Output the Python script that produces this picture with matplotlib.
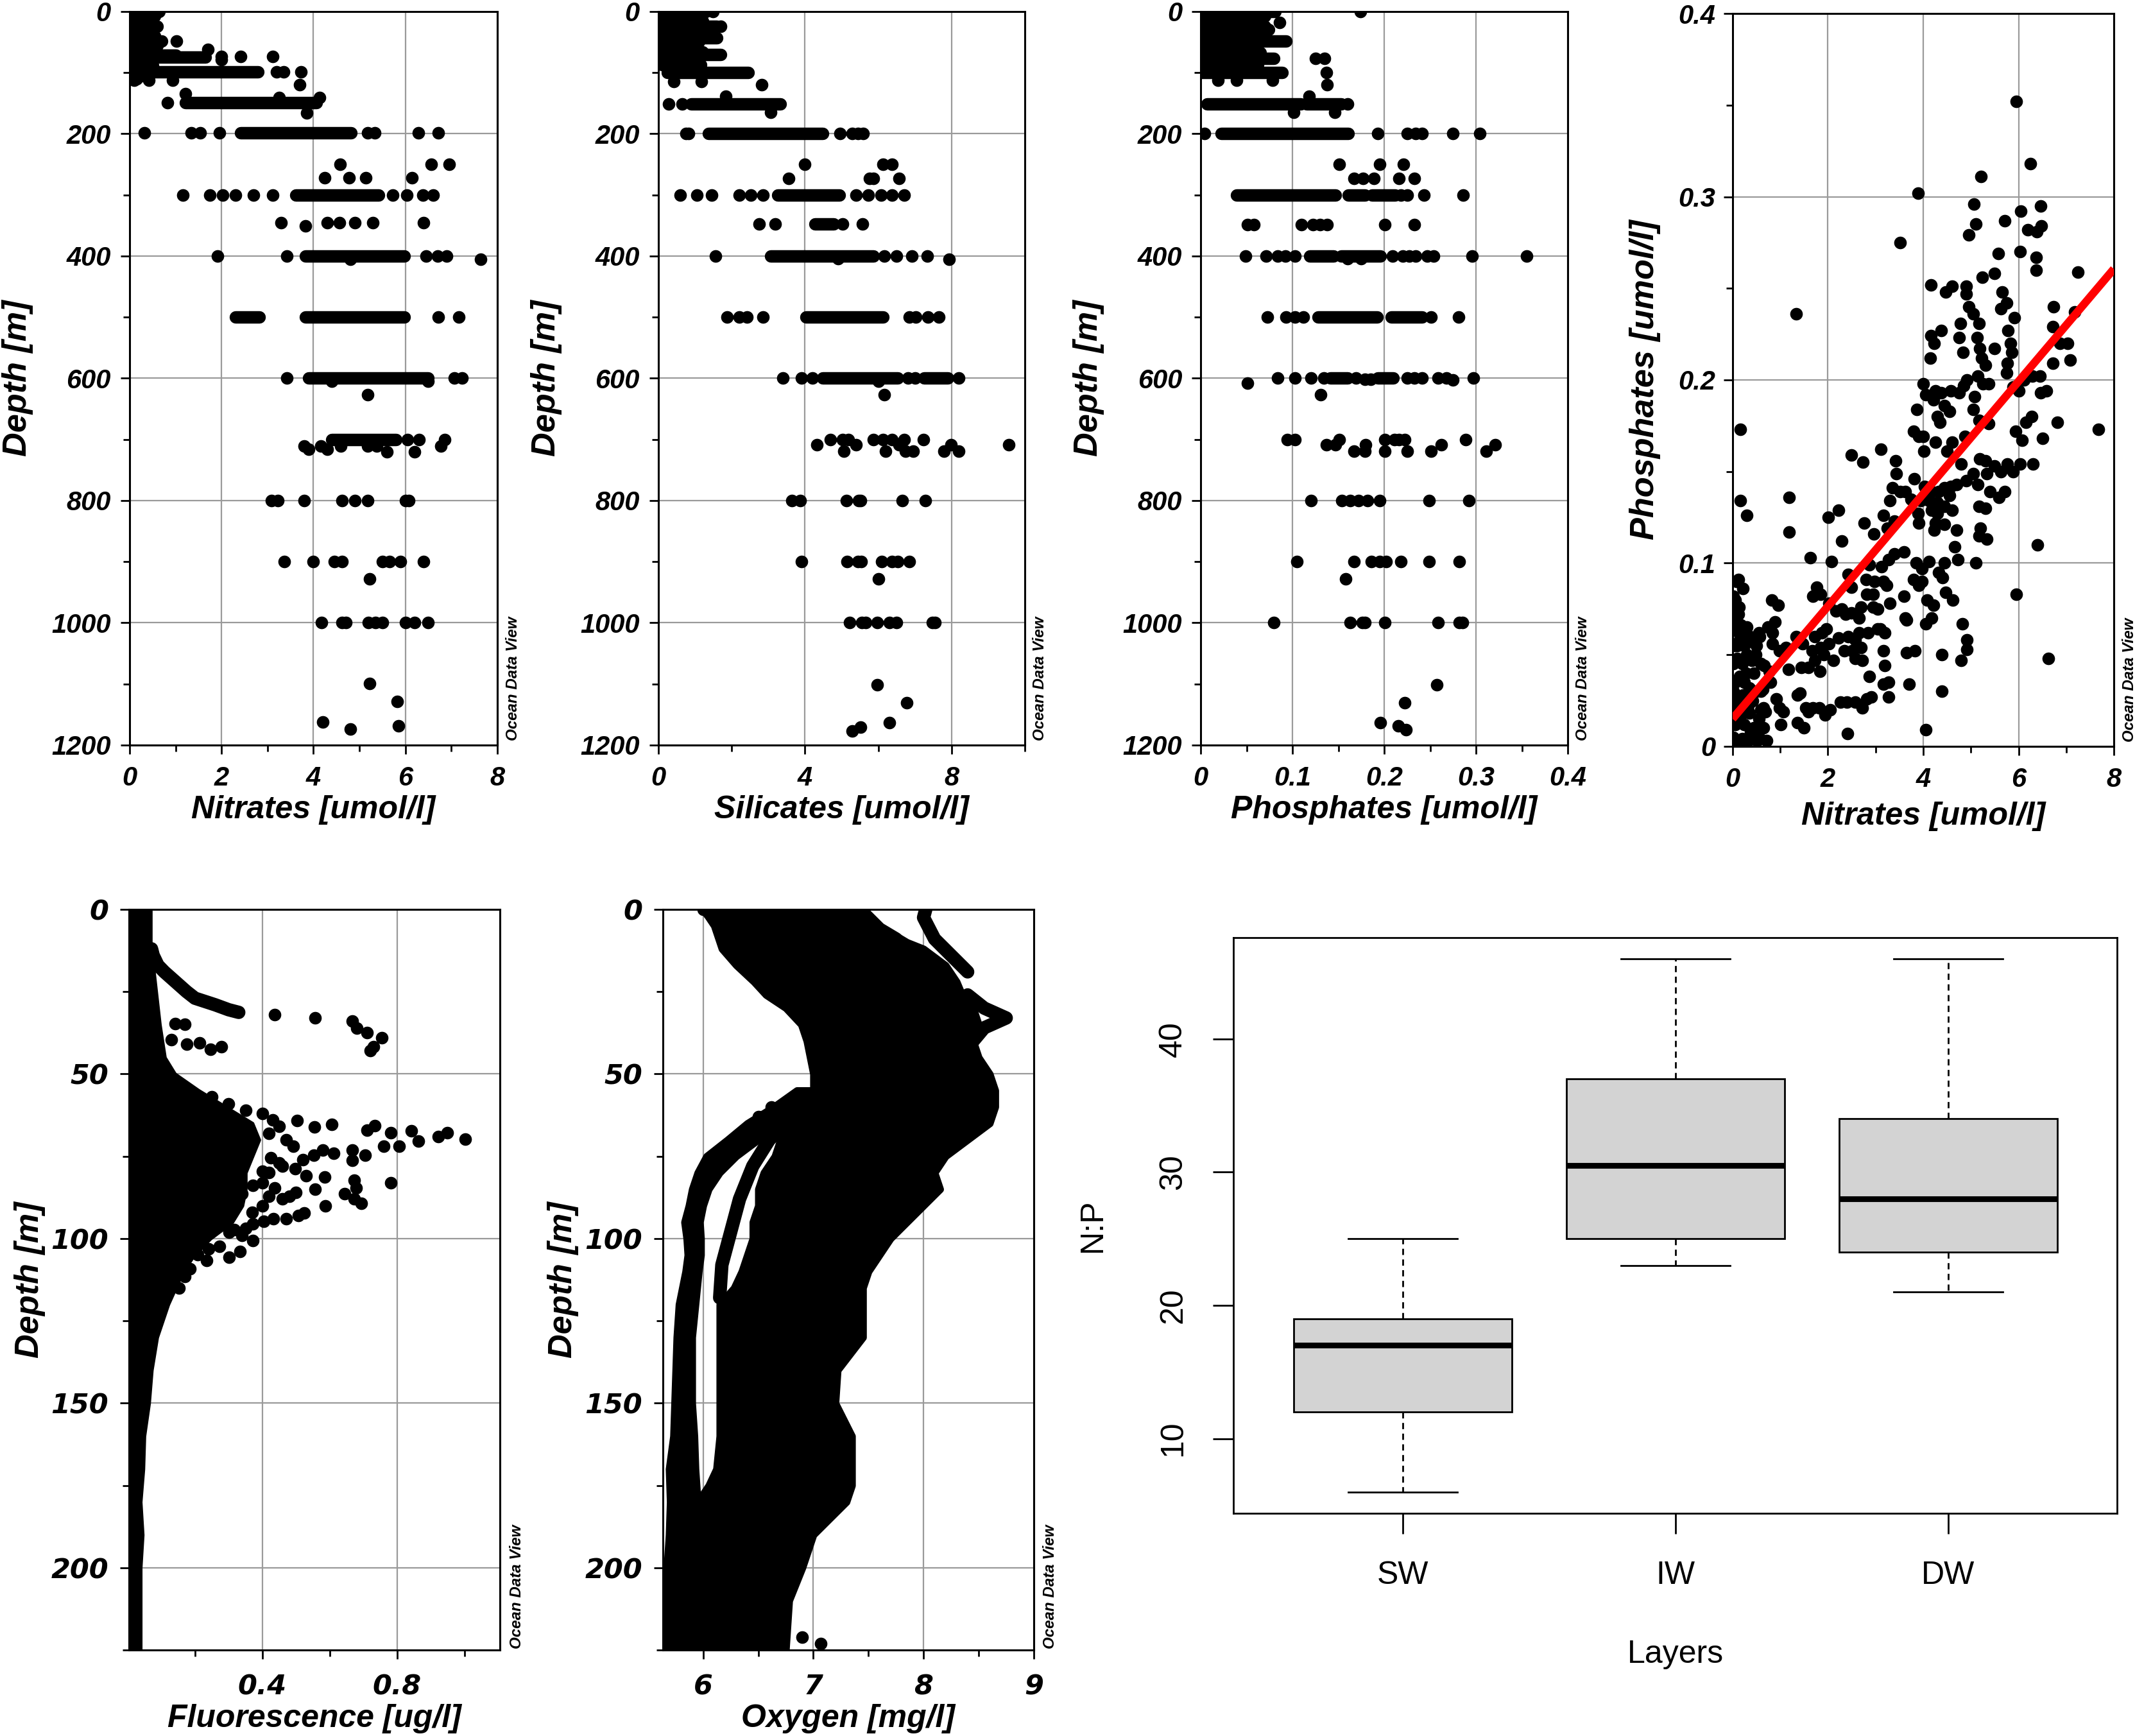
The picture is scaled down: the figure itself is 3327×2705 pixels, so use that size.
import matplotlib
matplotlib.use("Agg")
import matplotlib.pyplot as plt

plt.rcParams['font.family'] = ['Liberation Sans', 'DejaVu Sans']

# ---------------- data ----------------
# dense rows of dots are kept as (depth, from, to) runs, single dots as (depth, value)

# Nitrates [umol/l] vs depth
no3_runs = [(0, 0, 0.65), (8, 0, 0.55), (16, 0, 0.45), (24, 0, 0.6), (32, 0, 0.5),
            (40, 0, 0.55), (48, 0, 0.7), (56, 0, 0.6), (64, 0, 0.5), (72, 0, 1.0),
            (75, 0, 1.65), (80, 0, 0.4), (88, 0, 0.5), (95, 0, 0.4), (99, 0, 2.8),
            (105, 0, 0.3), (110, 0, 0.15), (149, 1.22, 4.06), (199, 2.42, 4.82),
            (300, 3.62, 5.42), (400, 3.82, 5.98), (500, 2.3, 2.82), (500, 3.82, 5.98),
            (600, 3.9, 6.5), (700, 4.4, 5.8)]
no3_dots = [(48, 1.02), (62, 1.7), (74, 2.0), (74, 2.42), (74, 3.12), (79, 2.0), (99, 3.2),
            (99, 3.35), (99, 3.73), (113, 0.1), (113, 0.42), (113, 0.94), (120, 3.7), (135, 1.22),
            (141, 3.26), (141, 4.14), (149, 0.82), (166, 3.86), (199, 0.32), (199, 1.34),
            (199, 1.54), (199, 1.96), (199, 5.18), (199, 5.33), (199, 6.28), (199, 6.72),
            (250, 4.58), (250, 6.56), (250, 6.96), (272, 4.24), (272, 4.78), (272, 5.14),
            (272, 6.14), (300, 1.16), (300, 1.74), (300, 2.02), (300, 2.3), (300, 2.69),
            (300, 3.12), (300, 5.73), (300, 6.04), (300, 6.38), (300, 6.61), (346, 3.3),
            (346, 4.3), (346, 4.57), (346, 4.9), (346, 5.29), (346, 6.4), (351, 3.82),
            (400, 1.92), (400, 3.42), (400, 6.45), (400, 6.7), (400, 6.9), (405, 7.64),
            (405, 4.8), (500, 6.72), (500, 7.17), (600, 3.42), (600, 7.06), (600, 7.23),
            (627, 5.18), (605, 4.4), (605, 6.5), (700, 6.05), (700, 6.3), (700, 6.86),
            (711, 3.8), (711, 4.16), (711, 4.6), (711, 5.18), (711, 5.38), (711, 6.78),
            (716, 3.9), (716, 4.3), (720, 5.6), (720, 6.2), (800, 3.08), (800, 3.22),
            (800, 3.8), (800, 4.62), (800, 4.9), (800, 5.18), (800, 6.0), (800, 6.08),
            (900, 3.37), (900, 4.0), (900, 4.45), (900, 4.62), (900, 5.5), (900, 5.65),
            (900, 5.9), (900, 6.4), (928, 5.23), (1000, 4.17), (1000, 4.62), (1000, 4.7),
            (1000, 5.2), (1000, 5.35), (1000, 5.5), (1000, 6.0), (1000, 6.2), (1000, 6.5),
            (1099, 5.23), (1129, 5.82), (1162, 4.2), (1168, 5.85), (1174, 4.8)]

# Silicates [umol/l] vs depth
si_runs = [(0, 0, 1.3), (8, 0, 1.0), (16, 0, 1.2), (24, 0, 1.6), (32, 0, 1.0), (43, 0, 1.6),
           (50, 0, 1.1), (58, 0, 0.9), (66, 0, 1.2), (71, 0.1, 1.7), (80, 0, 1.0),
           (87, 0.1, 1.15), (100, 0.24, 2.46), (151, 0.9, 3.33), (200, 1.37, 4.49),
           (300, 3.26, 4.93), (348, 4.27, 4.78), (400, 3.07, 5.87), (500, 4.02, 6.13),
           (600, 4.49, 6.53), (600, 7.25, 7.9)]
si_dots = [(0, 1.48), (24, 1.7), (115, 0.42), (115, 1.18), (120, 2.82), (139, 1.84),
           (151, 0.28), (151, 0.64), (165, 3.07), (200, 0.75), (200, 0.82), (200, 4.96),
           (200, 5.29), (200, 5.45), (200, 5.58), (250, 4.0), (250, 6.13), (250, 6.38),
           (273, 3.55), (273, 5.76), (273, 5.87), (273, 6.56), (300, 0.59), (300, 1.05),
           (300, 1.45), (300, 2.2), (300, 2.53), (300, 2.86), (300, 5.4), (300, 5.73),
           (300, 6.08), (300, 6.38), (300, 6.71), (348, 2.75), (348, 3.18), (348, 5.03),
           (348, 5.57), (400, 1.55), (400, 6.16), (400, 6.49), (400, 6.92), (400, 7.33),
           (405, 7.94), (404, 4.9), (500, 1.88), (500, 2.2), (500, 2.42), (500, 2.86),
           (500, 6.85), (500, 7.03), (500, 7.35), (500, 7.65), (600, 3.4), (600, 3.91),
           (600, 4.2), (600, 6.82), (600, 7.0), (600, 8.2), (605, 6.0), (627, 6.16),
           (700, 4.69), (700, 5.03), (700, 5.18), (700, 5.87), (700, 6.13), (700, 6.38),
           (700, 6.71), (700, 7.24), (709, 4.33), (709, 5.4), (709, 6.56), (709, 7.99),
           (709, 9.56), (719, 5.07), (719, 6.2), (719, 6.74), (719, 6.96), (719, 7.8),
           (719, 8.2), (800, 3.65), (800, 3.87), (800, 5.13), (800, 5.47), (800, 5.51),
           (800, 6.66), (800, 7.29), (900, 3.91), (900, 5.15), (900, 5.44), (900, 5.54),
           (900, 6.09), (900, 6.38), (900, 6.53), (900, 6.85), (928, 6.0), (1000, 5.22),
           (1000, 5.55), (1000, 5.65), (1000, 5.98), (1000, 6.31), (1000, 6.49),
           (1000, 7.47), (1000, 7.54), (1101, 5.98), (1131, 6.78), (1163, 6.31),
           (1171, 5.51), (1177, 5.29)]

# Phosphates [umol/l] vs depth
po4_runs = [(0, 0, 0.081), (8, 0, 0.07), (16, 0, 0.065), (24, 0, 0.07), (30, 0, 0.074),
            (40, 0, 0.06), (48, 0, 0.093), (56, 0, 0.06), (67, 0, 0.065), (77, 0, 0.08),
            (87, 0, 0.062), (100, 0, 0.089), (151, 0.007, 0.109), (151, 0.115, 0.153),
            (200, 0.022, 0.161), (300, 0.039, 0.147), (300, 0.161, 0.179),
            (300, 0.187, 0.212), (400, 0.119, 0.145), (400, 0.153, 0.196),
            (500, 0.128, 0.192), (500, 0.208, 0.241), (600, 0.141, 0.16), (600, 0.193, 0.21)]
po4_dots = [(0, 0.174), (18, 0.086), (77, 0.125), (77, 0.135), (100, 0.137), (112, 0.019),
            (112, 0.039), (112, 0.078), (120, 0.138), (139, 0.118), (151, 0.16), (165, 0.101),
            (165, 0.146), (200, 0.004), (200, 0.193), (200, 0.225), (200, 0.234), (200, 0.241),
            (200, 0.275), (200, 0.304), (250, 0.151), (250, 0.195), (250, 0.221), (273, 0.167),
            (273, 0.177), (273, 0.189), (273, 0.216), (273, 0.233), (300, 0.218), (300, 0.225),
            (300, 0.243), (300, 0.286), (349, 0.051), (349, 0.058), (349, 0.11), (349, 0.122),
            (349, 0.13), (349, 0.138), (349, 0.201), (349, 0.233), (400, 0.049), (400, 0.071),
            (400, 0.084), (400, 0.092), (400, 0.103), (400, 0.209), (400, 0.22), (400, 0.227),
            (400, 0.234), (400, 0.247), (400, 0.254), (400, 0.296), (400, 0.355), (404, 0.16),
            (404, 0.175), (500, 0.073), (500, 0.093), (500, 0.103), (500, 0.112), (500, 0.251),
            (500, 0.281), (608, 0.051), (600, 0.084), (600, 0.103), (600, 0.12), (600, 0.134),
            (600, 0.169), (602, 0.179), (602, 0.185), (600, 0.225), (600, 0.233), (600, 0.241),
            (600, 0.259), (600, 0.268), (603, 0.275), (600, 0.297), (627, 0.131), (700, 0.094),
            (700, 0.103), (700, 0.151), (700, 0.201), (700, 0.211), (700, 0.216), (700, 0.222),
            (700, 0.289), (709, 0.137), (709, 0.147), (709, 0.18), (709, 0.262), (709, 0.321),
            (719, 0.167), (719, 0.179), (719, 0.201), (719, 0.225), (719, 0.251), (719, 0.311),
            (800, 0.12), (800, 0.154), (800, 0.163), (800, 0.172), (800, 0.182), (800, 0.195),
            (800, 0.249), (800, 0.292), (900, 0.105), (900, 0.167), (900, 0.186), (900, 0.195),
            (900, 0.202), (900, 0.218), (900, 0.249), (900, 0.282), (928, 0.158), (1000, 0.08),
            (1000, 0.163), (1000, 0.176), (1000, 0.179), (1000, 0.201), (1000, 0.259),
            (1000, 0.282), (1000, 0.285), (1101, 0.257), (1131, 0.222), (1163, 0.196),
            (1169, 0.215), (1175, 0.224)]

# Phosphates vs Nitrates scatter, (nitrate, phosphate)
np_points = [(5.95, 0.352), (6.25, 0.318), (3.89, 0.302), (5.21, 0.311), (5.07, 0.296), (6.46, 0.295),
             (6.05, 0.292), (5.11, 0.285), (5.71, 0.287), (6.48, 0.284), (6.2, 0.282), (6.39, 0.281),
             (4.95, 0.279), (3.52, 0.275), (6.03, 0.27), (5.57, 0.269), (6.37, 0.267), (6.37, 0.26),
             (5.49, 0.258), (5.24, 0.256), (7.24, 0.259), (4.16, 0.252), (4.47, 0.248), (4.61, 0.251),
             (4.9, 0.251), (4.9, 0.247), (5.65, 0.248), (4.95, 0.24), (5.75, 0.242), (5.63, 0.239),
             (6.74, 0.24), (5.91, 0.234), (7.18, 0.237), (4.78, 0.231), (5.17, 0.231), (5.05, 0.236),
             (4.16, 0.224), (4.38, 0.227), (4.76, 0.223), (5.78, 0.227), (6.72, 0.229), (5.13, 0.223),
             (6.87, 0.22), (7.03, 0.22), (5.83, 0.22), (4.23, 0.22), (4.83, 0.215), (5.18, 0.217),
             (5.5, 0.217), (5.86, 0.215), (4.15, 0.212), (5.22, 0.212), (7.09, 0.211), (6.72, 0.209),
             (5.31, 0.208), (5.77, 0.209), (5.75, 0.204), (6.82, 0.177), (7.67, 0.173), (0.16, 0.173),
             (4.0, 0.198), (4.92, 0.2), (5.14, 0.202), (5.25, 0.198), (5.37, 0.198), (5.89, 0.196),
             (6.01, 0.194), (6.12, 0.2), (6.29, 0.202), (6.45, 0.202), (6.46, 0.193), (6.59, 0.194),
             (4.06, 0.192), (4.26, 0.194), (4.38, 0.193), (4.58, 0.194), (4.76, 0.193), (4.85, 0.197),
             (4.21, 0.189), (4.44, 0.186), (5.08, 0.191), (5.05, 0.184), (3.86, 0.184), (4.55, 0.183),
             (4.29, 0.18), (4.35, 0.177), (5.17, 0.178), (5.37, 0.176), (6.27, 0.18), (6.15, 0.177),
             (3.8, 0.172), (3.91, 0.169), (4.0, 0.169), (5.94, 0.172), (4.87, 0.169), (4.26, 0.166),
             (6.07, 0.167), (4.61, 0.166), (6.5, 0.168), (3.11, 0.162), (4.02, 0.161), (4.5, 0.161),
             (2.49, 0.159), (2.74, 0.155), (3.42, 0.156), (3.44, 0.149), (5.19, 0.157), (5.31, 0.156),
             (5.49, 0.153), (5.63, 0.15), (5.76, 0.154), (5.88, 0.15), (6.04, 0.154), (6.3, 0.154),
             (4.79, 0.154), (3.81, 0.146), (5.05, 0.149), (5.14, 0.143), (5.34, 0.149), (4.9, 0.145),
             (4.58, 0.142), (4.7, 0.143), (3.36, 0.141), (3.51, 0.139), (3.62, 0.139), (3.74, 0.135),
             (4.03, 0.142), (4.18, 0.139), (4.32, 0.139), (4.44, 0.141), (5.4, 0.139), (5.71, 0.139),
             (5.59, 0.136), (3.94, 0.134), (4.12, 0.134), (4.29, 0.133), (4.55, 0.137), (1.18, 0.136),
             (3.3, 0.134), (5.17, 0.131), (5.31, 0.13), (3.16, 0.126), (4.45, 0.131), (4.6, 0.129),
             (4.18, 0.129), (4.29, 0.127), (2.23, 0.129), (2.01, 0.125), (0.16, 0.134), (0.30, 0.126),
             (3.89, 0.127), (3.91, 0.122), (4.26, 0.122), (4.44, 0.121), (2.76, 0.122), (4.23, 0.118),
             (5.2, 0.119), (5.34, 0.113), (5.17, 0.115), (4.7, 0.118), (3.25, 0.119), (3.39, 0.123),
             (2.97, 0.116), (2.29, 0.112), (1.18, 0.117), (4.66, 0.109), (6.4, 0.11), (1.63, 0.103),
             (2.08, 0.101), (3.6, 0.106), (3.39, 0.105), (3.28, 0.102), (4.73, 0.102), (5.11, 0.1),
             (3.85, 0.1), (3.97, 0.097), (4.12, 0.101), (4.44, 0.1), (2.87, 0.099), (3.13, 0.098),
             (2.43, 0.094), (2.8, 0.091), (3.16, 0.09), (3.8, 0.091), (3.91, 0.088), (3.97, 0.09),
             (4.41, 0.092), (4.33, 0.095), (2.49, 0.087), (1.76, 0.087), (1.85, 0.083), (1.69, 0.082),
             (2.98, 0.09), (3.23, 0.088), (2.81, 0.083), (2.95, 0.083), (4.47, 0.084), (0.12, 0.091),
             (0.22, 0.086), (0.13, 0.076), (0.02, 0.082), (0.05, 0.071), (0.1, 0.068), (2.02, 0.078),
             (2.17, 0.074), (2.29, 0.075), (2.37, 0.072), (2.49, 0.073), (2.66, 0.07), (2.7, 0.076),
             (0.82, 0.08), (0.96, 0.077), (3.6, 0.082), (4.08, 0.08), (4.21, 0.077), (4.18, 0.07),
             (4.06, 0.067), (4.62, 0.08), (2.95, 0.076), (3.04, 0.075), (3.1, 0.064), (3.3, 0.078),
             (3.62, 0.07), (3.65, 0.069), (4.82, 0.067), (0.89, 0.068), (0.74, 0.065), (0.84, 0.062),
             (0.57, 0.06), (0.37, 0.06), (0.83, 0.056), (0.98, 0.052), (1.12, 0.054), (1.17, 0.042),
             (1.44, 0.043), (1.59, 0.043), (1.33, 0.06), (1.47, 0.056), (1.73, 0.06), (1.73, 0.047),
             (1.67, 0.052), (1.85, 0.054), (1.91, 0.05), (2.02, 0.056), (1.83, 0.041), (1.88, 0.062),
             (1.97, 0.064), (2.11, 0.047), (2.23, 0.059), (2.34, 0.052), (2.43, 0.06), (2.51, 0.052),
             (2.58, 0.058), (2.66, 0.062), (2.69, 0.054), (2.58, 0.048), (2.72, 0.047), (2.84, 0.062),
             (3.04, 0.064), (3.19, 0.062), (3.17, 0.052), (3.19, 0.044), (3.28, 0.035), (3.16, 0.034),
             (2.87, 0.038), (2.91, 0.027), (3.28, 0.027), (3.65, 0.051), (3.71, 0.034), (3.83, 0.052),
             (4.39, 0.05), (4.39, 0.03), (4.79, 0.047), (4.92, 0.058), (4.92, 0.053), (6.62, 0.048),
             (4.06, 0.009), (2.41, 0.007), (1.5, 0.01), (5.95, 0.083), (1.82, 0.021), (1.59, 0.019),
             (1.68, 0.021), (1.41, 0.029), (1.53, 0.021), (1.36, 0.013), (1.06, 0.019), (0.98, 0.021),
             (0.92, 0.026), (1.01, 0.012), (1.94, 0.017), (1.36, 0.028), (2.05, 0.02), (2.26, 0.024),
             (2.4, 0.024), (2.58, 0.024), (2.72, 0.021), (2.81, 0.026), (0.63, 0.031), (0.65, 0.021),
             (0.69, 0.019), (0.72, 0.003), (0.51, 0.003), (0.8, 0.035), (0.77, 0.041), (0.66, 0.044),
             (1.33, 0.236)]
np_cluster = [(0.02, 0.005), (0.1, 0.003), (0.2, 0.004), (0.3, 0.002), (0.4, 0.005), (0.05, 0.012),
              (0.15, 0.015), (0.25, 0.012), (0.35, 0.018), (0.45, 0.01), (0.55, 0.015), (0.03, 0.022),
              (0.12, 0.025), (0.22, 0.028), (0.32, 0.022), (0.42, 0.025), (0.5, 0.03), (0.05, 0.035),
              (0.15, 0.038), (0.25, 0.035), (0.35, 0.032), (0.45, 0.04), (0.02, 0.045), (0.1, 0.048),
              (0.2, 0.045), (0.3, 0.05), (0.4, 0.047), (0.05, 0.055), (0.15, 0.058), (0.25, 0.055),
              (0.35, 0.06), (0.08, 0.063), (0.18, 0.066), (0.3, 0.065), (0.5, 0.055), (0.6, 0.045),
              (0.55, 0.062), (0.03, 0.07), (0.12, 0.072), (0.22, 0.06), (0.42, 0.058), (0.48, 0.05),
              (0.6, 0.02), (0.65, 0.01), (0.05, 0.08), (0.08, 0.09), (0.1, 0.055), (0.2, 0.018),
              (0.38, 0.008), (0.28, 0.04), (0.02, 0.03), (0.6, 0.03), (0.55, 0.005)]
fit_intercept = 0.015
fit_slope = 0.0307

# Fluorescence [ug/l]: dense core (right edge by depth), a thin profile, single dots
fl_core_depth = [0, 10, 15, 25, 35, 45, 50, 55, 60, 65, 70, 75, 80, 85, 90, 95, 100, 105, 110,
                 115, 120, 130, 140, 150, 160, 170, 180, 190, 200, 225]
fl_core_edge = [0.068, 0.068, 0.073, 0.084, 0.095, 0.11, 0.14, 0.21, 0.29, 0.37, 0.39, 0.37,
                0.35, 0.35, 0.34, 0.31, 0.245, 0.197, 0.164, 0.142, 0.12, 0.087, 0.071, 0.063,
                0.049, 0.046, 0.038, 0.044, 0.038, 0.038]
fl_tail_depth = [12, 14, 17, 19, 22, 25, 27, 28, 29, 30.5, 31.3]
fl_tail_val = [0.071, 0.076, 0.09, 0.109, 0.142, 0.175, 0.2, 0.23, 0.26, 0.30, 0.33]
fl_dots = [(32, 0.437), (33, 0.557), (34, 0.667), (36, 0.68), (37.5, 0.71), (39, 0.755),
           (41.7, 0.73), (43, 0.72), (34.7, 0.142), (35, 0.17), (41, 0.175), (40.6, 0.213),
           (42.6, 0.246), (41.7, 0.279), (39.6, 0.13), (64.1, 0.503), (66.2, 0.555), (65.3, 0.607),
           (67, 0.71), (65.8, 0.734), (67.8, 0.781), (67.3, 0.842), (70.4, 0.863), (69, 0.923),
           (67.8, 0.949), (69.9, 1.003), (72, 0.76), (72, 0.807), (73.2, 0.667), (74.6, 0.705),
           (74.1, 0.612), (73.2, 0.579), (74.6, 0.552), (72, 0.492), (76.3, 0.667), (81.3, 0.585),
           (83, 0.781), (82.2, 0.672), (84.7, 0.678), (86.4, 0.645), (85, 0.557), (88, 0.672),
           (89.4, 0.694), (90, 0.588), (92.3, 0.525), (93, 0.508), (94, 0.47), (94, 0.432),
           (88, 0.459), (87.2, 0.48), (84.7, 0.437), (87.2, 0.42), (78.8, 0.497), (78, 0.459),
           (75.4, 0.426), (79.6, 0.40), (83.8, 0.372), (86.4, 0.339), (94.8, 0.404), (95.6, 0.372),
           (97.3, 0.317), (98.1, 0.301), (99, 0.339), (100.7, 0.372), (104, 0.333), (105.7, 0.301),
           (102.4, 0.273), (106.6, 0.235), (103.2, 0.24), (104.9, 0.208), (109.1, 0.186),
           (115, 0.153), (111.6, 0.17), (101.5, 0.213), (62, 0.40), (64, 0.43), (66, 0.45),
           (68, 0.42), (57, 0.25), (59, 0.30), (61, 0.35), (77, 0.45), (80, 0.42), (83, 0.40),
           (90, 0.40), (92, 0.37), (97, 0.35), (70, 0.47), (76, 0.52), (81, 0.53), (86, 0.50)]

# Oxygen [mg/l]: dense core (left / right edge by depth), left band of profiles, single lines
ox_core_depth = [0, 5, 10, 12, 17, 22, 26, 30, 35, 40, 45, 50, 55, 60, 65, 70, 75, 80, 85, 90,
                 95, 100, 105, 110, 115, 120, 130, 140, 150, 160, 170, 175, 180, 190, 200, 210, 225]
ox_core_left = [6.0, 6.1, 6.15, 6.17, 6.3, 6.46, 6.57, 6.75, 6.89, 6.94, 6.97, 7.0, 7.0, 6.8,
                6.7, 6.7, 6.65, 6.55, 6.5, 6.5, 6.45, 6.45, 6.4, 6.35, 6.28, 6.15, 6.15, 6.15,
                6.15, 6.15, 6.12, 6.05, 5.95, 5.9, 5.8, 5.64, 5.64]
ox_core_right = [7.45, 7.6, 7.85, 8.0, 8.2, 8.3, 8.35, 8.45, 8.5, 8.45, 8.5, 8.6, 8.65, 8.65,
                 8.6, 8.4, 8.2, 8.1, 8.15, 8.0, 7.85, 7.7, 7.6, 7.5, 7.45, 7.45, 7.45, 7.22, 7.2,
                 7.35, 7.35, 7.35, 7.3, 7.0, 6.9, 6.78, 6.75]
ox_band_depth = [55, 60, 65, 70, 75, 80, 85, 90, 95, 100, 105, 110, 120, 130, 140, 150, 160,
                 170, 180, 190, 200, 210, 225]
ox_band_left = [6.85, 6.64, 6.4, 6.22, 6.03, 5.95, 5.9, 5.87, 5.83, 5.85, 5.86, 5.84, 5.78,
                5.76, 5.75, 5.74, 5.73, 5.69, 5.7, 5.69, 5.67, 5.64, 5.64]
ox_band_right = [7.05, 6.9, 6.7, 6.5, 6.3, 6.15, 6.05, 6.0, 5.97, 5.98, 5.98, 5.96, 5.93, 5.9,
                 5.9, 5.9, 5.92, 5.93, 5.95, 5.9, 5.8, 5.7, 5.64]
ox_prof_c_depth = [47, 55, 65, 70, 78, 88, 98, 108, 118]
ox_prof_c_val = [7.35, 7.05, 6.75, 6.6, 6.45, 6.33, 6.25, 6.17, 6.15]
ox_prof_d_depth = [0, 2.5, 9, 14, 19]
ox_prof_d_val = [8.02, 8.0, 8.1, 8.25, 8.4]
ox_prof_e_depth = [26, 30, 33, 36, 40]
ox_prof_e_val = [8.4, 8.55, 8.75, 8.55, 8.45]
ox_prof_f_depth = [1, 6, 9, 14, 20, 25]
ox_prof_f_val = [7.45, 7.6, 7.75, 7.85, 8.0, 8.2]
ox_dots = [(221, 6.9), (223, 7.07), (0, 6.0), (1, 6.05), (60, 6.62), (63, 6.5)]

# N:P ratio by layer (box plot statistics)
layers = ['SW', 'IW', 'DW']
np_whislo = [6, 23, 21]
np_q1 = [12, 25, 24]
np_med = [17, 30.5, 28]
np_q3 = [19, 37, 34]
np_whishi = [25, 46, 46]

# ---------------- figure ----------------
fig = plt.figure(figsize=(16.635, 13.525), dpi=200)

BI = dict(fontweight='bold', fontstyle='italic')
DOT = 50          # marker area, pt^2
RUN_LW = 7.0      # run line width = dot diameter
PROF_LW = 7.5
GRID = dict(color='#9a9a9a', lw=0.8)


def odv_axes(rect, xlim, xmaj, xlab, xmin, ylim, ymaj, ylab, ymin, xlabel, ylabel,
             tick_fs, lab_fs, xpad, ypad, ylab_x, xlab_y, odv_xy):
    ax = fig.add_axes(rect)
    ax.set_xlim(*xlim)
    ax.set_ylim(*ylim)
    ax.set_xticks(xmaj, xlab, fontsize=tick_fs, **BI)
    ax.set_xticks(xmin, minor=True)
    ax.set_yticks(ymaj, ylab, fontsize=tick_fs, **BI)
    ax.set_yticks(ymin, minor=True)
    ax.tick_params(which='major', direction='out', length=5, width=1)
    ax.tick_params(which='minor', direction='out', length=3.5, width=1)
    ax.tick_params(axis='x', pad=xpad)
    ax.tick_params(axis='y', pad=ypad)
    ax.grid(True, which='major', **GRID)
    ax.set_axisbelow(True)
    for s in ax.spines.values():
        s.set_linewidth(1.1)
    ax.set_xlabel(xlabel, fontsize=lab_fs, va='center', **BI)
    ax.xaxis.set_label_coords(0.5, xlab_y)
    ax.set_ylabel(ylabel, fontsize=lab_fs + 0.8, va='center', **BI)
    ax.yaxis.set_label_coords(ylab_x, 0.5)
    fig.text(odv_xy[0], odv_xy[1], 'Ocean Data View', rotation=90, ha='center', va='bottom',
             fontsize=8.7, **BI)
    return ax


def depth_profile(ax, runs, dots):
    ax.hlines([r[0] for r in runs], [r[1] for r in runs], [r[2] for r in runs],
              colors='black', lw=RUN_LW, capstyle='round', zorder=3)
    ax.scatter([d[1] for d in dots], [d[0] for d in dots], s=DOT, c='black',
               lw=0, zorder=3)


top_h = 0.4226
dep_maj = [0, 200, 400, 600, 800, 1000, 1200]
dep_min = [100, 300, 500, 700, 900, 1100]
dep_lab = [str(v) for v in dep_maj]

ax1 = odv_axes([0.0607, 0.5708, 0.1722, top_h], (0, 8), [0, 2, 4, 6, 8],
               ['0', '2', '4', '6', '8'], [1, 3, 5, 7], (1200, 0), dep_maj, dep_lab, dep_min,
               'Nitrates [umol/l]', 'Depth [m]', 15, 18, 6.5, 5.5, -0.305, -0.088,
               (0.2402, 0.5734))
depth_profile(ax1, no3_runs, no3_dots)

ax2 = odv_axes([0.3084, 0.5708, 0.1716, top_h], (0, 10), [0, 4, 8], ['0', '4', '8'],
               [2, 6, 10], (1200, 0), dep_maj, dep_lab, dep_min,
               'Silicates [umol/l]', 'Depth [m]', 15, 18, 6.5, 5.5, -0.305, -0.088,
               (0.4872, 0.5734))
depth_profile(ax2, si_runs, si_dots)

ax3 = odv_axes([0.5624, 0.5708, 0.1719, top_h], (0, 0.4), [0, 0.1, 0.2, 0.3, 0.4],
               ['0', '0.1', '0.2', '0.3', '0.4'], [0.05, 0.15, 0.25, 0.35], (1200, 0),
               dep_maj, dep_lab, dep_min, 'Phosphates [umol/l]', 'Depth [m]', 15, 18, 6.5, 5.5,
               -0.305, -0.088, (0.7415, 0.5734))
depth_profile(ax3, po4_runs, po4_dots)

ax4 = odv_axes([0.8115, 0.5701, 0.1786, 0.4221], (0, 8), [0, 2, 4, 6, 8],
               ['0', '2', '4', '6', '8'], [1, 3, 5, 7], (0, 0.4), [0, 0.1, 0.2, 0.3, 0.4],
               ['0', '0.1', '0.2', '0.3', '0.4'], [0.05, 0.15, 0.25, 0.35],
               'Nitrates [umol/l]', 'Phosphates [umol/l]', 15, 18, 6.5, 4.5, -0.23, -0.096,
               (0.9973, 0.5728))
ax4.scatter([p[0] for p in np_points + np_cluster], [p[1] for p in np_points + np_cluster],
            s=DOT, c='black', lw=0, zorder=3)
fit_x = [0, 8]
ax4.plot(fit_x, [fit_intercept + fit_slope * v for v in fit_x], color='#ff0000', lw=4.5,
         zorder=4, solid_capstyle='butt')

bot_h = 0.4267
sh_maj = [0, 50, 100, 150, 200]
sh_min = [25, 75, 125, 175, 225]
sh_lab = [str(v) for v in sh_maj]
BOT_FONT = ['DejaVu Sans']

ax5 = odv_axes([0.0604, 0.0495, 0.1737, bot_h], (0.004, 1.105), [0.4, 0.8], ['0.4', '0.8'],
               [0.2, 0.6, 1.0], (225, 0), sh_maj, sh_lab, sh_min, 'Fluorescence [ug/l]',
               'Depth [m]', 15.5, 18, 8, 6.5, -0.268, -0.093, (0.242, 0.0503))
ax5.fill_betweenx(fl_core_depth, 0, fl_core_edge, color='black', lw=2, zorder=3)
ax5.plot(fl_tail_val, fl_tail_depth, color='black', lw=PROF_LW, solid_capstyle='round',
         solid_joinstyle='round', zorder=3)
ax5.scatter([d[1] for d in fl_dots], [d[0] for d in fl_dots], s=DOT, c='black', lw=0,
            zorder=3)

ax6 = odv_axes([0.3105, 0.0495, 0.1737, bot_h], (5.635, 9), [6, 7, 8, 9],
               ['6', '7', '8', '9'], [6.5, 7.5, 8.5], (225, 0), sh_maj, sh_lab, sh_min,
               'Oxygen [mg/l]', 'Depth [m]', 15.5, 18, 8, 6.5, -0.27, -0.093, (0.492, 0.0503))
for ax in (ax5, ax6):
    for lbl in ax.get_xticklabels() + ax.get_yticklabels():
        lbl.set_fontfamily(BOT_FONT)
ax6.fill_betweenx(ox_core_depth, ox_core_left, ox_core_right, color='black', lw=4,
                  joinstyle='round', zorder=3)
ax6.fill_betweenx(ox_band_depth, ox_band_left, ox_band_right, color='black', lw=4,
                  joinstyle='round', zorder=3)
for dd, vv in [(ox_prof_c_depth, ox_prof_c_val), (ox_prof_d_depth, ox_prof_d_val),
               (ox_prof_e_depth, ox_prof_e_val), (ox_prof_f_depth, ox_prof_f_val)]:
    ax6.plot(vv, dd, color='black', lw=PROF_LW, solid_capstyle='round', solid_joinstyle='round',
             zorder=3)
ax6.scatter([d[1] for d in ox_dots], [d[0] for d in ox_dots], s=DOT, c='black', lw=0,
            zorder=3)

# ---- box plot (R style) ----
ax7 = fig.add_axes([0.5777, 0.1283, 0.4139, 0.3316])
stats = [dict(label=l, whislo=a, q1=b, med=c, q3=d, whishi=e, fliers=[])
         for l, a, b, c, d, e in zip(layers, np_whislo, np_q1, np_med, np_q3, np_whishi)]
ax7.bxp(stats, positions=[1, 2, 3], widths=0.8, capwidths=0.4, patch_artist=True,
        showfliers=False,
        boxprops=dict(facecolor='#d3d3d3', edgecolor='black', lw=1.0),
        medianprops=dict(color='black', lw=3.2, solid_capstyle='butt'),
        whiskerprops=dict(color='black', lw=1.0, ls=(0, (3.5, 2.5))),
        capprops=dict(color='black', lw=1.0))
ax7.set_xlim(0.38, 3.62)
ax7.set_ylim(4.4, 47.6)
ax7.set_xticks([1, 2, 3], layers, fontsize=18)
ax7.set_yticks([10, 20, 30, 40], ['10', '20', '30', '40'], fontsize=18, rotation=90,
               va='center')
ax7.tick_params(direction='out', length=11.5, width=1)
ax7.tick_params(axis='x', pad=15)
ax7.tick_params(axis='y', pad=14)
for s in ax7.spines.values():
    s.set_linewidth(1.0)
ax7.set_xlabel('Layers', fontsize=18, va='center')
ax7.xaxis.set_label_coords(0.5, -0.245)
ax7.set_ylabel('N:P', fontsize=18, va='center')
ax7.yaxis.set_label_coords(-0.159, 0.5)

fig.savefig('out.png', dpi=200)
